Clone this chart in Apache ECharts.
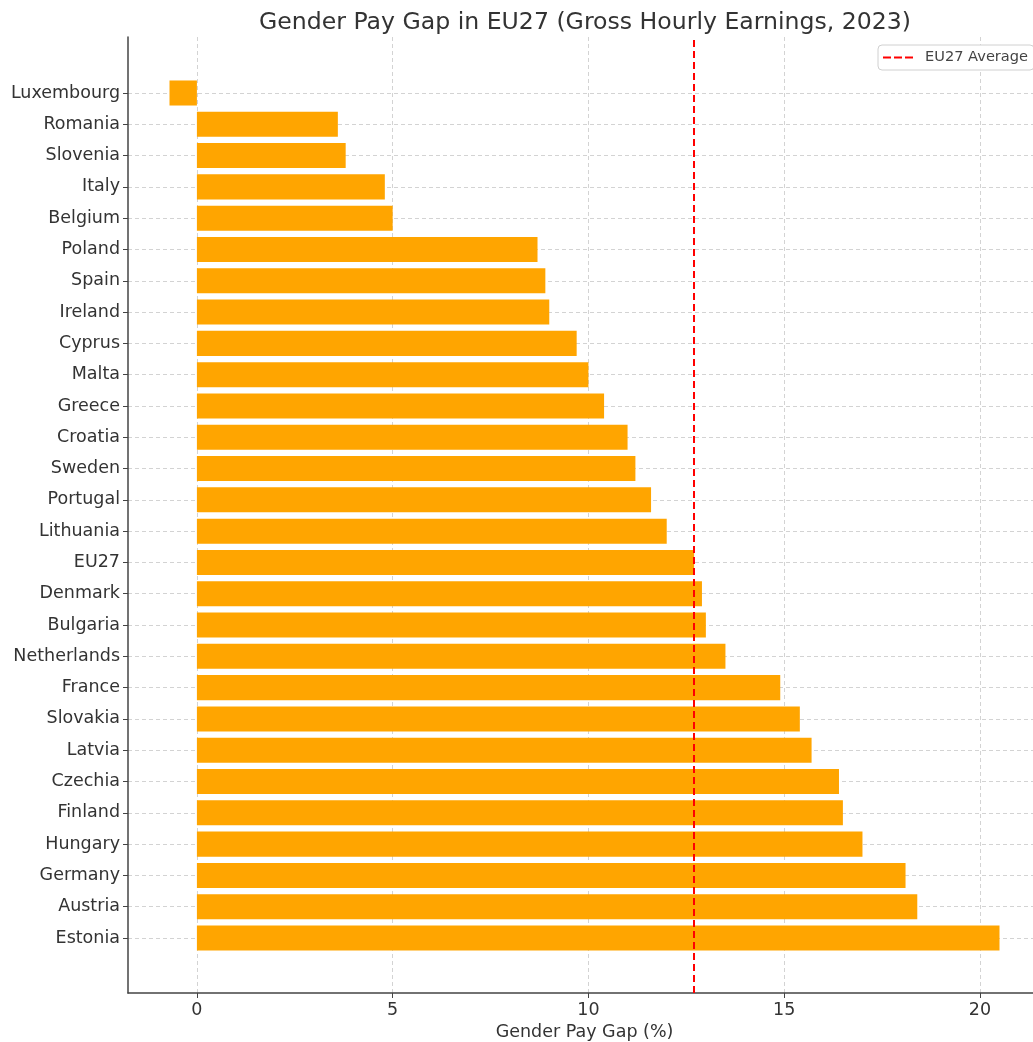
<!DOCTYPE html>
<html>
<head>
<meta charset="utf-8">
<script src="https://cdn.jsdelivr.net/npm/echarts@6/dist/echarts.min.js"></script>
<style>html,body{margin:0;padding:0;background:#fff}#c{width:1033px;height:1042px}</style>
</head>
<body>
<div id="c"></div>
<script>
const countries = ['Luxembourg','Romania','Slovenia','Italy','Belgium','Poland','Spain','Ireland','Cyprus','Malta','Greece','Croatia','Sweden','Portugal','Lithuania','EU27','Denmark','Bulgaria','Netherlands','France','Slovakia','Latvia','Czechia','Finland','Hungary','Germany','Austria','Estonia'];
const gapValues = [-0.7,3.6,3.8,4.8,5.0,8.7,8.9,9.0,9.7,10.0,10.4,11.0,11.2,11.6,12.0,12.7,12.9,13.0,13.5,14.9,15.4,15.7,16.4,16.5,17.0,18.1,18.4,20.5];
const eu27Average = 12.7;
const xTickLabels = [0,5,10,15,20];
const xMin = -1.76, xMax = 21.56;

const font = 'DejaVu Sans';
const chart = echarts.init(document.getElementById('c'), null, {renderer:'canvas'});
chart.setOption({
  animation:false,
  backgroundColor:'#fff',
  title:{text:'Gender Pay Gap in EU27 (Gross Hourly Earnings, 2023)', left:580, textAlign:'center', top:6,
    textStyle:{fontFamily:font, fontSize:23.6, fontWeight:'normal', color:'#333'}},
  legend:{data:[{name:'EU27 Average'}], left:878, top:45, orient:'vertical', padding:[5,6,5,5],
    itemWidth:30, itemHeight:2, backgroundColor:'#fff', borderColor:'#d0d0d0', borderWidth:1, borderRadius:4,
    icon:'path://M0,0h8v2h-8zM11,0h8v2h-8zM22,0h8v2h-8z',
    itemStyle:{color:'#ff0000'},
    textStyle:{fontFamily:font, fontSize:14.6, color:'#444', padding:[0,0,0,7]}},
  grid:[
    {left:128, right:-8, top:37, bottom:49, containLabel:false, outerBoundsMode:'none'},
    {left:128, right:-8, top:93, bottom:104, containLabel:false, outerBoundsMode:'none'}
  ],
  xAxis:[
    {type:'value', gridIndex:0, min:xMin, max:xMax,
      axisLine:{show:true, onZero:false, lineStyle:{color:'#444', width:1.5}},
      axisTick:{show:true, length:5, lineStyle:{color:'#444'}, customValues: xTickLabels},
      axisLabel:{fontFamily:font, fontSize:17.5, color:'#333', margin:8,
        customValues: xTickLabels,
        formatter:v => (xTickLabels.indexOf(v) >= 0 ? String(v) : '')},
      splitLine:{show:true, lineStyle:{color:'#d3d3d3', type:[4,3], width:1}},
      name:'Gender Pay Gap (%)', nameLocation:'middle', nameGap:27,
      nameTextStyle:{fontFamily:font, fontSize:17.5, color:'#333'}},
    {type:'value', gridIndex:1, min:xMin, max:xMax, show:false}
  ],
  yAxis:[
    {type:'value', gridIndex:0, min:0, max:1,
      axisLine:{show:true, onZero:false, lineStyle:{color:'#444', width:1.5}},
      axisTick:{show:false}, axisLabel:{show:false}, splitLine:{show:false}},
    {type:'category', gridIndex:1, data:countries, inverse:true, boundaryGap:false,
      axisLine:{show:false, onZero:false},
      axisTick:{show:true, length:5, lineStyle:{color:'#444'}},
      axisLabel:{fontFamily:font, fontSize:17.5, color:'#333', margin:8},
      splitLine:{show:true, lineStyle:{color:'#d3d3d3', type:[4,3], width:1}}}
  ],
  series:[
    {type:'bar', xAxisIndex:1, yAxisIndex:1, data:gapValues, barWidth:'80%', clip:false,
      itemStyle:{color:'#ffa500'}, silent:true},
    {type:'line', name:'EU27 Average', xAxisIndex:0, yAxisIndex:0, data:[],
      lineStyle:{color:'#ff0000', type:[7,4], width:2}, itemStyle:{color:'#ff0000'},
      markLine:{silent:true, symbol:'none', label:{show:false},
        lineStyle:{color:'#ff0000', type:[7,4], width:2}, data:[{xAxis:eu27Average}]}}
  ]
});
</script>
</body>
</html>
